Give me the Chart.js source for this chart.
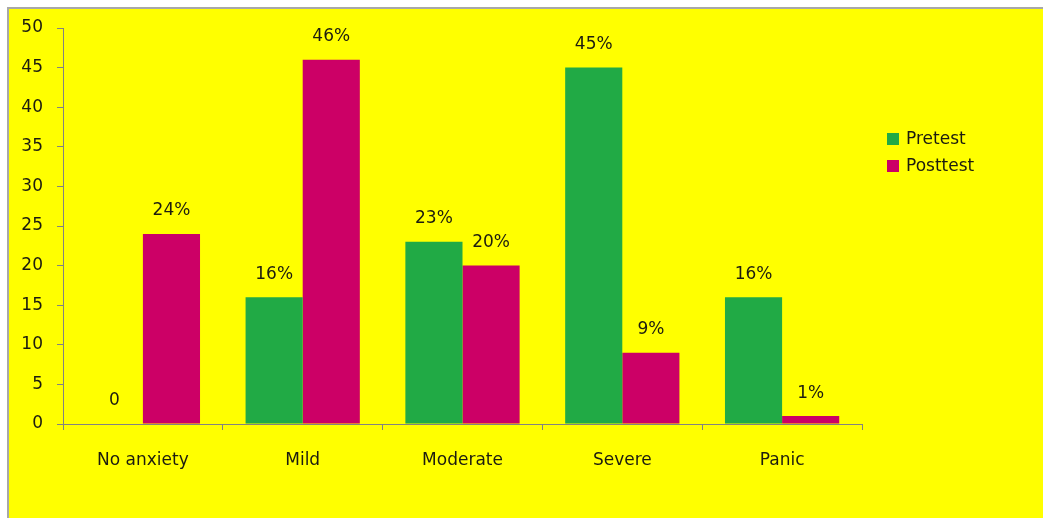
<!DOCTYPE html>
<html>
<head>
<meta charset="utf-8">
<script src="https://cdn.jsdelivr.net/npm/chart.js@4"></script>
<style>
    html, body { margin: 0; padding: 0; background: #fff; }
    #frame {
        position: absolute;
        left: 7px;
        top: 7px;
        width: 1036px;
        height: 511px;
        border-left: 2px solid #a8a8a8;
        border-top: 2px solid #a8a8a8;
        background: #ffff00;
        overflow: hidden;
    }
    #frame canvas { display: block; }
</style>
</head>
<body>
<div id="frame"><canvas id="anxiety-chart" width="1034" height="509"></canvas></div>
<script>
// Anxiety levels before and after the programme (percent of participants)
const levels = ['No anxiety', 'Mild', 'Moderate', 'Severe', 'Panic'];
const pretest = [0, 16, 23, 45, 16];
const posttest = [24, 46, 20, 9, 1];
const yTicks = [0, 5, 10, 15, 20, 25, 30, 35, 40, 45, 50];

const FONT = 'DejaVu Sans';
const TEXT = '#1c1c10';
const AXIS = '#828282';

function percentLabel(v) {
    return v === 0 ? '0' : v + '%';
}

// Value labels above each bar
const valueLabels = {
    id: 'valueLabels',
    afterDatasetsDraw(chart) {
        const ctx = chart.ctx;
        ctx.save();
        ctx.font = '17px "' + FONT + '"';
        ctx.fillStyle = TEXT;
        ctx.textAlign = 'center';
        ctx.textBaseline = 'middle';
        chart.data.datasets.forEach((ds, i) => {
            chart.getDatasetMeta(i).data.forEach((bar, j) => {
                ctx.fillText(percentLabel(ds.data[j]), bar.x, bar.y - 23);
            });
        });
        ctx.restore();
    }
};

// Legend on the right, square swatches
const sideLegend = {
    id: 'sideLegend',
    afterDraw(chart) {
        const ctx = chart.ctx;
        const x = chart.chartArea.right + 25;
        let y = 124;
        ctx.save();
        ctx.font = '17px "' + FONT + '"';
        ctx.textBaseline = 'middle';
        ctx.textAlign = 'left';
        chart.data.datasets.forEach(ds => {
            ctx.fillStyle = ds.backgroundColor;
            ctx.fillRect(x, y, 12, 12);
            ctx.fillStyle = TEXT;
            ctx.fillText(ds.label, x + 19, y + 7);
            y += 27;
        });
        ctx.restore();
    }
};

const ctx = document.getElementById('anxiety-chart').getContext('2d');
new Chart(ctx, {
    type: 'bar',
    data: {
        labels: levels,
        datasets: [
            { label: 'Pretest', data: pretest, backgroundColor: '#21aa45' },
            { label: 'Posttest', data: posttest, backgroundColor: '#cc0066' }
        ]
    },
    options: {
        responsive: false,
        animation: false,
        layout: { padding: { left: 0, top: 19, right: 181, bottom: 0 } },
        datasets: {
            bar: { barPercentage: 1.0, categoryPercentage: 0.715, borderWidth: 0 }
        },
        plugins: {
            legend: { display: false },
            tooltip: { enabled: false }
        },
        scales: {
            x: {
                grid: {
                    offset: true,
                    drawOnChartArea: false,
                    drawTicks: true,
                    tickLength: 6,
                    color: AXIS
                },
                border: { display: true, color: AXIS, width: 1 },
                ticks: {
                    color: TEXT,
                    font: { family: FONT, size: 17 },
                    padding: 20,
                    maxRotation: 0
                },
                afterFit(scale) { scale.height = 94; }
            },
            y: {
                min: 0,
                max: 50,
                afterBuildTicks(scale) {
                    scale.ticks = yTicks.map(v => ({ value: v }));
                },
                grid: {
                    drawOnChartArea: false,
                    drawTicks: true,
                    tickLength: 6,
                    color: AXIS
                },
                border: { display: true, color: AXIS, width: 1 },
                ticks: {
                    color: TEXT,
                    font: { family: FONT, size: 17 },
                    padding: 14
                },
                afterFit(scale) {
                    // fixed axis width; no extra room above/below for labels
                    scale.width = 54;
                    scale.paddingTop = 0;
                    scale.paddingBottom = 0;
                }
            }
        }
    },
    plugins: [valueLabels, sideLegend]
});
</script>
</body>
</html>
